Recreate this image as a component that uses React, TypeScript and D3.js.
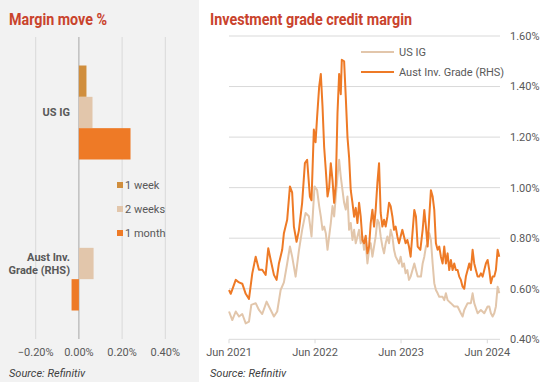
import React from "react";
import * as d3 from "d3";

// ---------- Left panel: margin move % ----------
const categories = ["US IG", "Aust Inv. Grade (RHS)"];
const categoryLabelLines = [["US IG"], ["Aust Inv.", "Grade (RHS)"]];
const seriesNames = ["1 week", "2 weeks", "1 month"];
const oneWeek = [0.035, 0.0];
const twoWeeks = [0.063, 0.068];
const oneMonth = [0.239, -0.034];
const barTicks = [-0.2, 0, 0.2, 0.4];

// ---------- Right panel: credit margin (decimal year, %) ----------
const usIG: [number, number][] = [
  [2021.414, 0.51], [2021.452, 0.476], [2021.492, 0.51], [2021.53, 0.49], [2021.568, 0.5], [2021.608, 0.463],
  [2021.646, 0.47], [2021.673, 0.536], [2021.724, 0.543], [2021.762, 0.516], [2021.8, 0.5], [2021.851, 0.549],
  [2021.878, 0.53], [2021.936, 0.49], [2021.974, 0.51], [2022.014, 0.595], [2022.052, 0.625], [2022.09, 0.7],
  [2022.122, 0.767], [2022.148, 0.727], [2022.188, 0.648], [2022.226, 0.75], [2022.264, 0.833], [2022.304, 0.9],
  [2022.342, 0.887], [2022.373, 0.807], [2022.408, 1.005], [2022.438, 0.99], [2022.462, 0.927], [2022.481, 0.886],
  [2022.501, 0.833], [2022.52, 0.846], [2022.539, 0.82], [2022.559, 0.754], [2022.578, 0.807], [2022.597, 0.86],
  [2022.617, 0.927], [2022.636, 0.886], [2022.655, 0.965], [2022.675, 1.044], [2022.694, 1.11], [2022.713, 1.044],
  [2022.733, 0.99], [2022.752, 0.94], [2022.771, 0.913], [2022.791, 0.965], [2022.81, 0.833], [2022.829, 0.86],
  [2022.849, 0.793], [2022.868, 0.833], [2022.887, 0.78], [2022.907, 0.807], [2022.926, 0.833], [2022.945, 0.78],
  [2022.965, 0.807], [2022.984, 0.754], [2023.003, 0.78], [2023.023, 0.7], [2023.042, 0.754], [2023.061, 0.78],
  [2023.081, 0.727], [2023.1, 0.767], [2023.119, 0.807], [2023.139, 0.873], [2023.158, 0.86], [2023.177, 0.807],
  [2023.197, 0.767], [2023.216, 0.74], [2023.235, 0.78], [2023.255, 0.807], [2023.274, 0.78], [2023.293, 0.833],
  [2023.313, 0.807], [2023.332, 0.754], [2023.351, 0.727], [2023.371, 0.714], [2023.39, 0.7], [2023.409, 0.727],
  [2023.429, 0.687], [2023.448, 0.7], [2023.467, 0.661], [2023.487, 0.674], [2023.506, 0.635], [2023.525, 0.648],
  [2023.568, 0.7], [2023.587, 0.674], [2023.607, 0.648], [2023.645, 0.648], [2023.665, 0.7], [2023.684, 0.727],
  [2023.703, 0.767], [2023.723, 0.78], [2023.742, 0.82], [2023.761, 0.793], [2023.781, 0.7], [2023.8, 0.622],
  [2023.819, 0.595], [2023.839, 0.582], [2023.858, 0.568], [2023.897, 0.568], [2023.916, 0.555], [2023.935, 0.582],
  [2023.955, 0.555], [2023.993, 0.543], [2024.032, 0.53], [2024.071, 0.53], [2024.109, 0.503], [2024.129, 0.49],
  [2024.148, 0.516], [2024.187, 0.543], [2024.225, 0.543], [2024.245, 0.582], [2024.264, 0.543], [2024.303, 0.503],
  [2024.341, 0.516], [2024.38, 0.503], [2024.419, 0.53], [2024.438, 0.53], [2024.457, 0.503], [2024.477, 0.49],
  [2024.496, 0.503], [2024.515, 0.53], [2024.535, 0.608], [2024.554, 0.582],
];

const austIG: [number, number][] = [
  [2021.414, 0.595], [2021.434, 0.58], [2021.492, 0.635], [2021.53, 0.625], [2021.568, 0.62], [2021.608, 0.58],
  [2021.646, 0.56], [2021.684, 0.66], [2021.724, 0.727], [2021.762, 0.675], [2021.8, 0.675], [2021.84, 0.655],
  [2021.87, 0.76], [2021.898, 0.715], [2021.936, 0.655], [2021.967, 0.635], [2021.994, 0.7], [2022.032, 0.754],
  [2022.052, 0.82], [2022.09, 0.873], [2022.122, 1.005], [2022.148, 0.98], [2022.168, 0.846], [2022.199, 0.786],
  [2022.226, 0.83], [2022.264, 0.94], [2022.296, 1.097], [2022.322, 1.11], [2022.354, 0.965], [2022.373, 0.95],
  [2022.4, 1.23], [2022.42, 1.18], [2022.438, 1.28], [2022.462, 1.4], [2022.481, 1.45], [2022.501, 1.32],
  [2022.52, 1.16], [2022.539, 1.07], [2022.559, 0.965], [2022.578, 1.0], [2022.597, 1.097], [2022.617, 1.03],
  [2022.636, 0.94], [2022.655, 1.01], [2022.675, 1.295], [2022.694, 1.45], [2022.713, 1.37], [2022.725, 1.506],
  [2022.752, 1.5], [2022.771, 1.36], [2022.791, 1.2], [2022.81, 1.12], [2022.829, 0.99], [2022.849, 0.94],
  [2022.868, 0.885], [2022.887, 0.92], [2022.907, 0.86], [2022.926, 0.94], [2022.945, 0.885], [2022.965, 0.793],
  [2022.984, 0.78], [2023.003, 0.81], [2023.023, 0.74], [2023.042, 0.767], [2023.061, 0.86], [2023.081, 0.913],
  [2023.1, 0.846], [2023.119, 0.913], [2023.139, 1.02], [2023.158, 1.097], [2023.177, 0.9], [2023.197, 0.846],
  [2023.216, 0.873], [2023.235, 0.846], [2023.255, 0.886], [2023.274, 0.94], [2023.293, 0.927], [2023.313, 0.886],
  [2023.332, 0.833], [2023.351, 0.846], [2023.371, 0.807], [2023.39, 0.78], [2023.409, 0.807], [2023.429, 0.833],
  [2023.448, 0.807], [2023.467, 0.78], [2023.487, 0.793], [2023.506, 0.767], [2023.525, 0.727], [2023.568, 0.912],
  [2023.587, 0.886], [2023.607, 0.767], [2023.638, 0.754], [2023.665, 0.833], [2023.684, 0.912], [2023.703, 0.846],
  [2023.723, 0.767], [2023.742, 0.886], [2023.761, 0.99], [2023.781, 0.965], [2023.8, 0.912], [2023.819, 0.78],
  [2023.839, 0.754], [2023.858, 0.767], [2023.877, 0.727], [2023.897, 0.7], [2023.916, 0.767], [2023.935, 0.7],
  [2023.955, 0.74], [2023.974, 0.674], [2023.993, 0.714], [2024.013, 0.674], [2024.032, 0.7], [2024.051, 0.674],
  [2024.071, 0.674], [2024.09, 0.648], [2024.109, 0.635], [2024.129, 0.608], [2024.148, 0.6], [2024.167, 0.648],
  [2024.187, 0.674], [2024.206, 0.7], [2024.225, 0.674], [2024.245, 0.754], [2024.264, 0.7], [2024.283, 0.674],
  [2024.303, 0.648], [2024.322, 0.648], [2024.341, 0.661], [2024.361, 0.648], [2024.399, 0.7], [2024.419, 0.714],
  [2024.438, 0.674], [2024.457, 0.622], [2024.477, 0.648], [2024.496, 0.648], [2024.515, 0.674], [2024.535, 0.754],
  [2024.554, 0.727],
];

const xTickDates = ["2021-06-01", "2022-06-01", "2023-06-01", "2024-06-01"];
const yTicks = [0.4, 0.6, 0.8, 1.0, 1.2, 1.4, 1.6];
const lineNames = ["US IG", "Aust Inv. Grade (RHS)"];

const barColors = ["#d08e3d", "#e2c6ab", "#ee7a26"];
const lineColors = ["#e2c6ab", "#ee7a26"];
const TEXT = "#595959";
const GRID = "#d9d9d9";
const TITLE = "#c9432c";
const FONT = "Roboto, 'Open Sans', sans-serif";

const toDate = (t: number) => {
  const y = Math.floor(t);
  const s = Date.UTC(y, 0, 1);
  const e = Date.UTC(y + 1, 0, 1);
  return new Date(s + (t - y) * (e - s));
};

export default function App() {
  // Left panel scales
  const xBar = d3.scaleLinear().domain([-0.2, 0.4]).range([35.7, 165.3]);
  const yCat = d3.scaleBand<string>().domain(categories).range([37, 339]);
  const ySer = d3.scaleBand<string>().domain(seriesNames).range([0, yCat.bandwidth()]).paddingOuter(0.91);
  const seriesValues = [oneWeek, twoWeeks, oneMonth];
  const pct = d3.format(".2%");

  // Right panel scales
  const xT = d3
    .scaleUtc()
    .domain([new Date(xTickDates[0]), new Date(xTickDates[3])])
    .range([229, 487.3]);
  const yR = d3.scaleLinear().domain([0.4, 1.6]).range([339.3, 36]);
  const line = d3
    .line<[number, number]>()
    .x((d) => xT(toDate(d[0])))
    .y((d) => yR(d[1]));
  const fmtMonth = d3.utcFormat("%b %Y");
  const plotRight = 500;

  return (
    <svg
      width={543}
      height={382}
      style={{ position: "absolute", left: 0, top: 0, display: "block" }}
      fontFamily={FONT}
    >
      <rect x={0} y={0} width={543} height={382} fill="#ffffff" />
      <rect x={0} y={0} width={199} height={382} fill="#f2f2f2" />

      {/* Left panel */}
      <text x={9} y={25} fontSize={16} fontWeight={700} fill={TITLE} textLength={98} lengthAdjust="spacingAndGlyphs">
        Margin move %
      </text>
      {barTicks.map((t) => (
        <line
          key={"g" + t}
          x1={xBar(t)}
          x2={xBar(t)}
          y1={37}
          y2={339}
          stroke={t === 0 ? "#a6a6a6" : GRID}
          strokeWidth={1}
        />
      ))}
      {barTicks.map((t) => (
        <text key={"bt" + t} x={xBar(t)} y={356} fontSize={11} fill={TEXT} textAnchor="middle">
          {pct(t / 100)}
        </text>
      ))}
      {categories.map((c, ci) =>
        seriesNames.map((s, si) => {
          const v = seriesValues[si][ci];
          const x0 = xBar(Math.min(0, v));
          const x1 = xBar(Math.max(0, v));
          return (
            <rect
              key={c + s}
              x={x0}
              y={(yCat(c) as number) + (ySer(s) as number)}
              width={x1 - x0}
              height={ySer.bandwidth()}
              fill={barColors[si]}
            />
          );
        })
      )}
      {categories.map((c, ci) => {
        const lines = categoryLabelLines[ci];
        const cy = (yCat(c) as number) + yCat.bandwidth() / 2;
        return lines.map((l, li) => (
          <text
            key={c + li}
            x={70}
            y={cy + (li - (lines.length - 1) / 2) * 13}
            dy="0.35em"
            fontSize={11}
            fontWeight={700}
            fill={TEXT}
            textAnchor="end"
          >
            {l}
          </text>
        ));
      })}
      {seriesNames.map((s, i) => (
        <g key={"leg" + s}>
          <rect x={117} y={182 + i * 24} width={6} height={6} fill={barColors[i]} />
          <text x={125} y={185 + i * 24} dy="0.35em" fontSize={11} fill={TEXT}>
            {s}
          </text>
        </g>
      ))}
      <text x={9} y={377} fontSize={11} fontStyle="italic" fill="#404040">
        Source: Refinitiv
      </text>

      {/* Right panel */}
      <text x={210} y={25} fontSize={16} fontWeight={700} fill={TITLE} textLength={202} lengthAdjust="spacingAndGlyphs">
        Investment grade credit margin
      </text>
      {yTicks.map((t) => (
        <g key={"y" + t}>
          <line x1={229} x2={plotRight} y1={yR(t)} y2={yR(t)} stroke={GRID} strokeWidth={1} />
          <text x={510} y={yR(t)} dy="0.35em" fontSize={11} fill={TEXT}>
            {pct(t / 100)}
          </text>
        </g>
      ))}
      {xTickDates.map((d) => {
        const x = xT(new Date(d));
        return (
          <g key={d}>
            <line x1={x} x2={x} y1={yR(0.4)} y2={yR(0.4) + 4} stroke={GRID} strokeWidth={1} />
            <text x={x} y={356} fontSize={11} fill={TEXT} textAnchor="middle">
              {fmtMonth(new Date(d))}
            </text>
          </g>
        );
      })}
      <path d={line(usIG) || ""} fill="none" stroke={lineColors[0]} strokeWidth={2} strokeLinejoin="round" />
      <path d={line(austIG) || ""} fill="none" stroke={lineColors[1]} strokeWidth={2} strokeLinejoin="round" />
      {lineNames.map((n, i) => (
        <g key={"ll" + n}>
          <line x1={361} x2={394} y1={52 + i * 20} y2={52 + i * 20} stroke={lineColors[i]} strokeWidth={2} />
          <text x={399} y={52 + i * 20} dy="0.35em" fontSize={11} fill={TEXT}>
            {n}
          </text>
        </g>
      ))}
      <text x={210} y={377} fontSize={11} fontStyle="italic" fill="#404040">
        Source: Refinitiv
      </text>
    </svg>
  );
}
